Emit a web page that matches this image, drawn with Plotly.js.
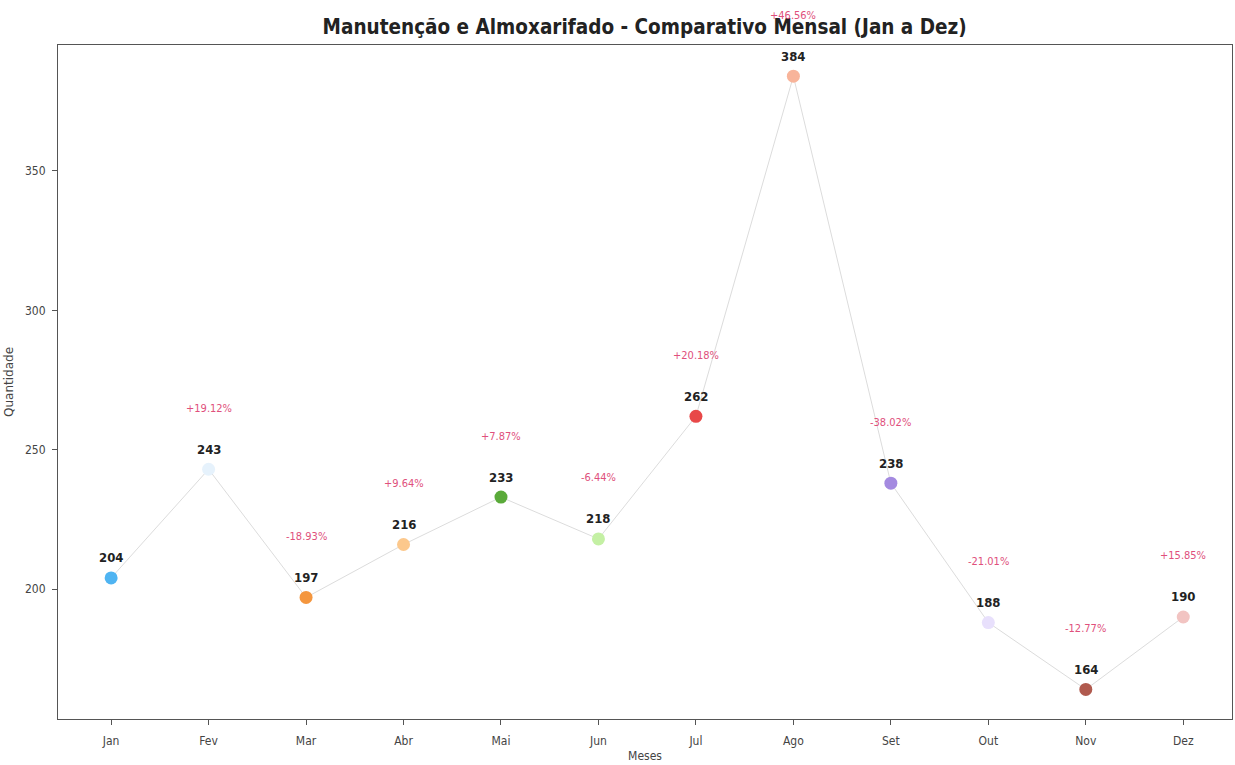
<!DOCTYPE html>
<html>
<head>
<meta charset="utf-8">
<script src="https://cdn.plot.ly/plotly-3.0.1.min.js"></script>
<style>html,body{margin:0;padding:0;background:#fff;}#chart{width:1235px;height:765px;}</style>
</head>
<body>
<div id="chart"></div>
<script>
const months = ["Jan","Fev","Mar","Abr","Mai","Jun","Jul","Ago","Set","Out","Nov","Dez"];
const values = [204, 243, 197, 216, 233, 218, 262, 384, 238, 188, 164, 190];
const pctLabels = ["", "+19.12%", "-18.93%", "+9.64%", "+7.87%", "-6.44%", "+20.18%", "+46.56%", "-38.02%", "-21.01%", "-12.77%", "+15.85%"];
const markerColors = ["#4fb4f2", "#e6f2fc", "#f4963e", "#fcc88c", "#5aaa3a", "#c4f0a4", "#e84848", "#f8b49a", "#a48ae0", "#e8e0fc", "#b05a4e", "#f2c4c2"];
const yTicks = [200, 250, 300, 350];

const FONT = "DejaVu Sans Condensed, DejaVu Sans";

const trace = {
  x: months, y: values, type: "scatter", mode: "lines+markers",
  line: {color: "#dcdcdc", width: 1},
  marker: {color: markerColors, size: 13, line: {width: 0}},
  hoverinfo: "x+y", showlegend: false
};

const annotations = [];
months.forEach((m, i) => {
  annotations.push({x: m, y: values[i], xref: "x", yref: "y", text: "<b>" + values[i] + "</b>",
    showarrow: false, yshift: 20, font: {family: FONT, size: 13, color: "#222"}, xanchor: "center", yanchor: "middle"});
  if (pctLabels[i]) {
    annotations.push({x: m, y: values[i], xref: "x", yref: "y", text: pctLabels[i],
      showarrow: false, yshift: 61, font: {family: FONT, size: 11, color: "#e0507c"}, xanchor: "center", yanchor: "middle"});
  }
});

const layout = {
  width: 1235, height: 765,
  margin: {l: 58, r: 3, t: 45, b: 46},
  paper_bgcolor: "#fff", plot_bgcolor: "#fff",
  title: {text: "<b>Manutenção e Almoxarifado - Comparativo Mensal (Jan a Dez)</b>",
    font: {family: FONT, size: 20.5, color: "#222"},
    x: 0.522, xanchor: "center", y: 0.965, yanchor: "middle"},
  xaxis: {type: "category", range: [-0.545, 11.5], showgrid: false, zeroline: false,
    showline: true, linecolor: "#555", linewidth: 1, mirror: true,
    ticks: "outside", ticklen: 5, tickcolor: "#555", ticklabelstandoff: 6,
    tickfont: {family: FONT, size: 12, color: "#444"},
    title: {text: "Meses", font: {family: FONT, size: 12, color: "#444"}, standoff: 4}},
  yaxis: {range: [153.4, 395.2], showgrid: false, zeroline: false,
    showline: true, linecolor: "#555", linewidth: 1, mirror: true,
    tickvals: yTicks, ticks: "outside", ticklen: 5, tickcolor: "#555", ticklabelstandoff: 4,
    tickfont: {family: FONT, size: 12, color: "#444"},
    title: {text: "Quantidade", font: {family: "DejaVu Sans", size: 12, color: "#444"}, standoff: 8}},
  annotations: annotations
};

Plotly.newPlot("chart", [trace], layout, {displayModeBar: false, responsive: false});
</script>
</body>
</html>
